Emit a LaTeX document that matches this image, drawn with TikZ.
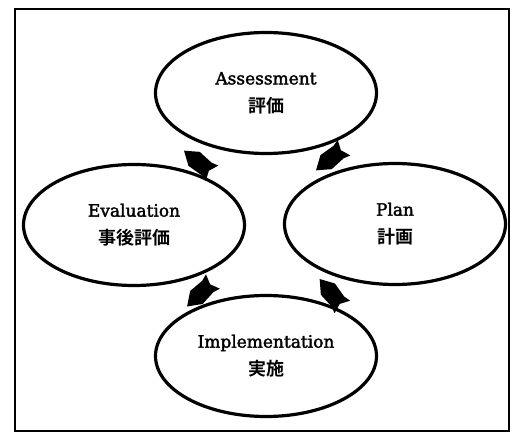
\documentclass[tikz,border=0pt]{standalone}
\usepackage{fontspec}
\setmainfont[FakeBold=2]{DejaVu Serif}
\newfontfamily\jfont{Noto Sans CJK JP Bold}
\usetikzlibrary{shapes.geometric}
\begin{document}
\begin{tikzpicture}[x=1pt,y=-1pt,
  phase/.style={ellipse, draw, line width=3.2pt, minimum width=221pt,
    minimum height=121pt, inner sep=0pt, align=center,
    font=\fontsize{17}{28}\selectfont},
  frame/.style={line width=2pt},
  blockarrow/.pic={
    \fill[black] (18pt,0pt) -- (5pt,9pt) -- (-11pt,8pt) -- (-18pt,10pt)
      -- (-14pt,0pt) -- (-18pt,-10pt) -- (-11pt,-8pt) -- (5pt,-9pt) -- cycle;
  }]
\useasboundingbox (0,0) rectangle (512,433);
\draw[frame] (15,9) rectangle (509,431);

% the four phases of the cycle
\node[phase] (assess) at (266,93)  {Assessment\\{\jfont\fontsize{18}{28}\selectfont 評価}};
\node[phase] (plan)   at (395,224) {Plan\\{\jfont\fontsize{18}{28}\selectfont 計画}};
\node[phase] (impl)   at (266,356) {Implementation\\{\jfont\fontsize{18}{28}\selectfont 実施}};
\node[phase] (eval)   at (134,225) {Evaluation\\{\jfont\fontsize{18}{28}\selectfont 事後評価}};

% block arrows in the gaps between neighbouring phases
\pic[rotate=141] at (198,162) {blockarrow};
\pic[rotate=219] at (330,159) {blockarrow};
\pic[rotate=224] at (200,294) {blockarrow};
\pic[rotate=129] at (331,293) {blockarrow};
\end{tikzpicture}
\end{document}
